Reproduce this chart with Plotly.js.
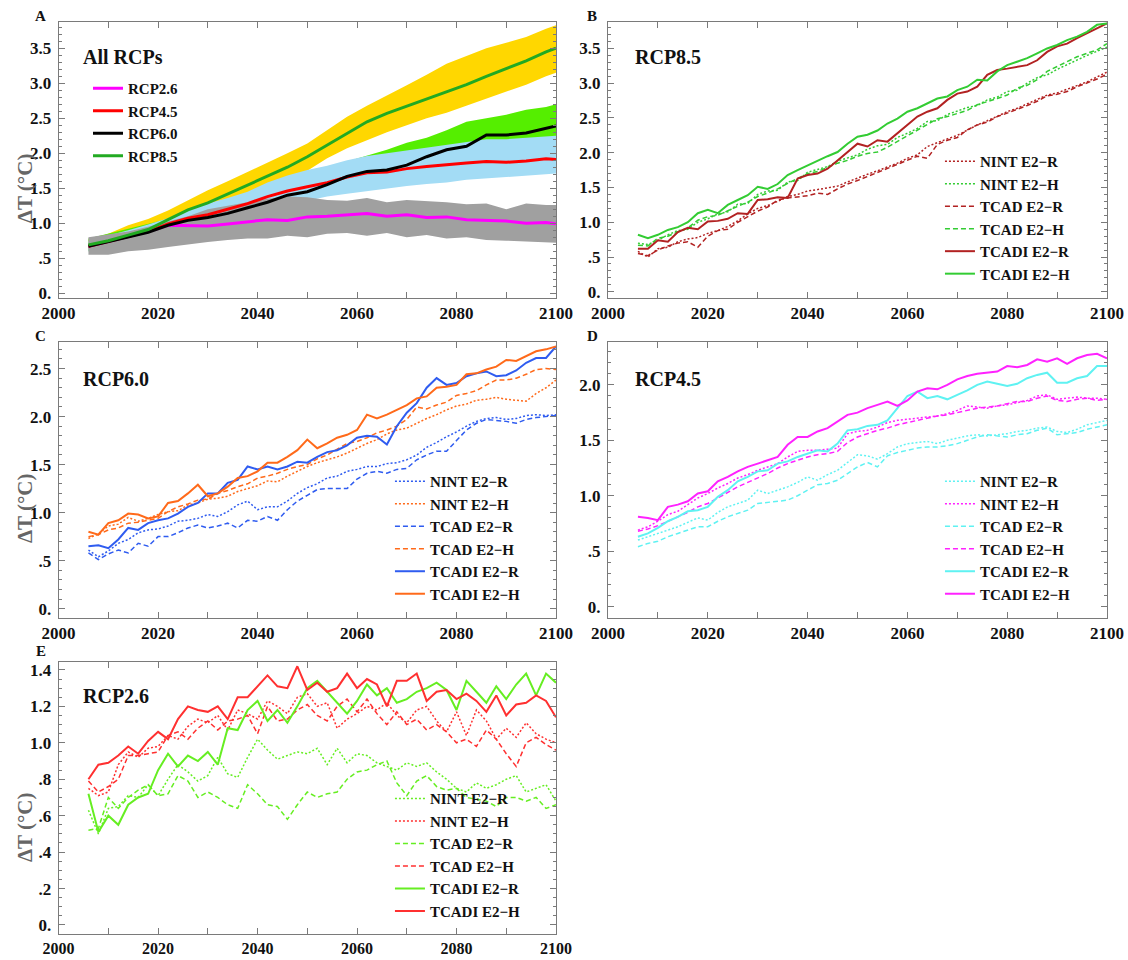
<!DOCTYPE html>
<html>
<head>
<meta charset="utf-8">
<script src="https://cdn.plot.ly/plotly-3.0.1.min.js"></script>
<style>html,body{margin:0;padding:0;background:#fff;}#chart{width:1128px;height:960px;}</style>
</head>
<body>
<div id="chart"></div>
<script>
// ---------- DATA ----------
const yearsA = [2006,2010,2014,2018,2022,2026,2030,2034,2038,2042,2046,2050,2054,2058,2062,2066,2070,2074,2078,2082,2086,2090,2094,2098,2100];
const years = [2006,2008,2010,2012,2014,2016,2018,2020,2022,2024,2026,2028,2030,2032,2034,2036,2038,2040,2042,2044,2046,2048,2050,2052,2054,2056,2058,2060,2062,2064,2066,2068,2070,2072,2074,2076,2078,2080,2082,2084,2086,2088,2090,2092,2094,2096,2098,2100];

// Panel A: All RCPs (means and ranges)
const rcpNames = ["RCP2.6","RCP4.5","RCP6.0","RCP8.5"];
const rcp26 = [0.67,0.74,0.80,0.88,0.97,0.97,0.96,0.99,1.02,1.05,1.04,1.09,1.10,1.12,1.14,1.10,1.12,1.08,1.09,1.05,1.04,1.03,1.00,1.01,0.99];
const rcp45 = [0.67,0.74,0.81,0.88,0.99,1.07,1.12,1.20,1.28,1.38,1.46,1.52,1.58,1.66,1.72,1.73,1.78,1.81,1.84,1.86,1.88,1.87,1.89,1.92,1.91];
const rcp60 = [0.67,0.74,0.80,0.87,0.97,1.04,1.08,1.14,1.22,1.30,1.40,1.45,1.55,1.67,1.74,1.76,1.83,1.95,2.05,2.10,2.26,2.26,2.29,2.36,2.39];
const rcp85 = [0.69,0.75,0.83,0.91,1.05,1.19,1.29,1.42,1.55,1.68,1.80,1.95,2.12,2.29,2.45,2.57,2.67,2.77,2.88,2.98,3.10,3.21,3.32,3.45,3.50];
const rcp26Lo = [0.55,0.55,0.60,0.62,0.66,0.70,0.73,0.76,0.78,0.78,0.82,0.80,0.85,0.86,0.82,0.86,0.80,0.83,0.78,0.80,0.76,0.75,0.74,0.72,0.72];
const rcp26Hi = [0.80,0.84,0.88,0.95,1.02,1.10,1.20,1.25,1.30,1.35,1.38,1.37,1.33,1.32,1.36,1.30,1.33,1.32,1.30,1.27,1.28,1.20,1.28,1.26,1.26];
const rcp45Lo = [0.60,0.66,0.72,0.78,0.85,0.92,0.98,1.04,1.10,1.18,1.26,1.32,1.38,1.42,1.46,1.50,1.53,1.56,1.58,1.62,1.64,1.66,1.68,1.70,1.71];
const rcp45Hi = [0.75,0.82,0.90,0.98,1.07,1.18,1.28,1.36,1.45,1.58,1.68,1.76,1.82,1.90,1.96,2.00,2.04,2.08,2.12,2.15,2.20,2.20,2.22,2.24,2.25];
const rcp60Lo = [0.60,0.66,0.72,0.78,0.85,0.92,0.95,1.02,1.08,1.15,1.25,1.35,1.45,1.52,1.58,1.64,1.72,1.82,1.92,2.02,2.10,2.12,2.15,2.18,2.20];
const rcp60Hi = [0.78,0.85,0.92,0.98,1.06,1.15,1.22,1.30,1.40,1.50,1.60,1.70,1.80,1.88,1.96,2.05,2.15,2.22,2.33,2.45,2.50,2.55,2.62,2.66,2.70];
const rcp85Lo = [0.64,0.70,0.77,0.85,0.95,1.05,1.15,1.27,1.40,1.50,1.58,1.75,1.93,2.07,2.19,2.30,2.40,2.50,2.58,2.68,2.77,2.87,2.98,3.10,3.15];
const rcp85Hi = [0.76,0.85,0.97,1.06,1.18,1.33,1.47,1.60,1.73,1.87,2.00,2.14,2.33,2.52,2.68,2.82,2.97,3.12,3.28,3.39,3.50,3.58,3.66,3.78,3.83];

const seriesNames = ["NINT E2\u2212R","NINT E2\u2212H","TCAD E2\u2212R","TCAD E2\u2212H","TCADI E2\u2212R","TCADI E2\u2212H"];

// Panel B: RCP8.5
const b_nintR = [0.58,0.50,0.62,0.64,0.72,0.76,0.78,0.84,0.88,0.94,1.02,1.12,1.20,1.24,1.30,1.37,1.40,1.45,1.47,1.50,1.52,1.58,1.64,1.69,1.74,1.79,1.85,1.92,1.97,2.09,2.15,2.20,2.25,2.33,2.40,2.46,2.53,2.59,2.64,2.70,2.76,2.83,2.86,2.91,2.97,3.02,3.09,3.16];
const b_nintH = [0.70,0.68,0.74,0.82,0.88,0.90,1.00,1.05,1.12,1.15,1.26,1.27,1.40,1.45,1.46,1.58,1.60,1.72,1.76,1.80,1.88,1.93,1.97,2.05,2.10,2.12,2.22,2.28,2.35,2.45,2.46,2.55,2.60,2.65,2.68,2.76,2.80,2.88,2.90,3.00,3.08,3.12,3.20,3.27,3.33,3.40,3.46,3.52];
const b_tcadR = [0.55,0.52,0.60,0.66,0.70,0.72,0.64,0.80,0.88,0.90,1.00,1.08,1.16,1.22,1.32,1.35,1.36,1.38,1.42,1.40,1.48,1.55,1.60,1.66,1.72,1.78,1.84,1.90,1.95,1.92,2.12,2.18,2.22,2.33,2.40,2.44,2.52,2.57,2.62,2.68,2.74,2.82,2.84,2.88,2.95,3.00,3.06,3.13];
const b_tcadH = [0.67,0.66,0.77,0.80,0.86,0.92,1.03,1.08,1.10,1.17,1.23,1.29,1.37,1.42,1.48,1.56,1.63,1.70,1.73,1.79,1.85,1.89,1.95,1.99,2.01,2.08,2.16,2.25,2.33,2.40,2.49,2.52,2.57,2.61,2.69,2.73,2.78,2.83,2.93,2.97,3.05,3.17,3.24,3.31,3.38,3.43,3.48,3.57];
const b_tcadiR = [0.62,0.62,0.74,0.72,0.86,0.92,0.90,1.01,1.02,1.05,1.13,1.12,1.32,1.33,1.36,1.35,1.63,1.68,1.70,1.77,1.89,2.01,2.13,2.09,2.18,2.16,2.28,2.40,2.52,2.59,2.64,2.76,2.85,2.88,2.95,3.12,3.19,3.21,3.24,3.26,3.33,3.45,3.53,3.57,3.65,3.72,3.79,3.86];
const b_tcadiH = [0.82,0.77,0.82,0.89,0.93,1.00,1.13,1.18,1.13,1.25,1.32,1.39,1.51,1.48,1.55,1.68,1.75,1.82,1.88,1.95,2.01,2.13,2.23,2.26,2.32,2.42,2.49,2.59,2.64,2.71,2.78,2.81,2.90,2.95,3.05,3.04,3.17,3.26,3.31,3.36,3.43,3.50,3.55,3.62,3.67,3.74,3.84,3.86];

// Panel C: RCP6.0
const c_nintR = [0.61,0.54,0.60,0.68,0.72,0.79,0.82,0.83,0.86,0.91,0.92,0.94,0.98,0.96,1.01,1.08,1.12,1.03,1.06,1.06,1.12,1.20,1.26,1.30,1.36,1.38,1.43,1.45,1.48,1.48,1.51,1.52,1.55,1.60,1.68,1.73,1.79,1.84,1.90,1.95,1.98,1.99,1.97,1.98,2.01,2.02,2.01,2.02];
const c_nintH = [0.73,0.78,0.86,0.88,0.95,0.91,0.94,0.98,1.01,1.02,1.08,1.10,1.14,1.15,1.17,1.22,1.25,1.28,1.33,1.32,1.38,1.43,1.48,1.52,1.55,1.58,1.62,1.67,1.72,1.76,1.82,1.86,1.88,1.93,1.98,2.02,2.07,2.11,2.13,2.17,2.18,2.20,2.18,2.17,2.16,2.24,2.30,2.38];
const c_tcadR = [0.58,0.51,0.57,0.61,0.58,0.68,0.65,0.75,0.75,0.79,0.84,0.87,0.84,0.86,0.89,0.84,0.92,0.91,0.96,0.92,1.03,1.12,1.18,1.24,1.25,1.25,1.25,1.35,1.41,1.43,1.41,1.45,1.46,1.55,1.60,1.64,1.64,1.75,1.86,1.93,1.97,1.96,1.95,1.93,1.97,1.99,2.00,2.01];
const c_tcadH = [0.75,0.77,0.82,0.84,0.89,0.90,0.92,0.94,1.01,1.06,1.09,1.13,1.14,1.20,1.23,1.27,1.30,1.36,1.38,1.41,1.45,1.48,1.50,1.56,1.60,1.66,1.72,1.74,1.78,1.83,1.86,1.90,1.97,2.10,2.08,2.12,2.15,2.22,2.24,2.27,2.33,2.38,2.38,2.40,2.44,2.49,2.50,2.49];
const c_tcadiR = [0.65,0.66,0.63,0.72,0.84,0.82,0.89,0.92,0.94,0.99,1.06,1.10,1.20,1.20,1.31,1.34,1.48,1.45,1.48,1.45,1.48,1.53,1.52,1.58,1.63,1.65,1.70,1.78,1.80,1.79,1.71,1.90,2.04,2.14,2.30,2.40,2.33,2.35,2.42,2.45,2.47,2.42,2.43,2.48,2.56,2.61,2.61,2.73];
const c_tcadiH = [0.80,0.77,0.89,0.92,0.99,0.98,0.94,0.96,1.10,1.12,1.20,1.29,1.17,1.20,1.27,1.36,1.38,1.43,1.52,1.52,1.58,1.65,1.76,1.67,1.72,1.78,1.81,1.86,2.02,1.98,2.02,2.07,2.12,2.19,2.21,2.30,2.31,2.33,2.44,2.45,2.49,2.52,2.59,2.58,2.63,2.68,2.70,2.73];

// Panel D: RCP4.5
const d_nintR = [0.60,0.63,0.66,0.69,0.72,0.76,0.80,0.78,0.85,0.90,0.93,0.96,1.05,1.02,1.05,1.08,1.12,1.17,1.14,1.19,1.23,1.30,1.37,1.36,1.33,1.38,1.44,1.47,1.48,1.49,1.47,1.50,1.52,1.54,1.55,1.54,1.55,1.56,1.58,1.59,1.61,1.62,1.58,1.57,1.60,1.64,1.66,1.68];
const d_nintH = [0.69,0.72,0.77,0.83,0.86,0.92,0.98,1.02,1.07,1.11,1.16,1.19,1.23,1.26,1.29,1.35,1.40,1.41,1.41,1.42,1.43,1.56,1.58,1.59,1.62,1.66,1.68,1.69,1.70,1.71,1.72,1.74,1.77,1.81,1.80,1.79,1.81,1.82,1.84,1.86,1.90,1.91,1.87,1.88,1.89,1.88,1.88,1.87];
const d_tcadR = [0.54,0.57,0.59,0.63,0.66,0.69,0.72,0.72,0.77,0.81,0.84,0.87,0.93,0.94,0.95,0.96,1.00,1.05,1.10,1.11,1.14,1.20,1.26,1.30,1.26,1.36,1.39,1.41,1.43,1.44,1.44,1.45,1.47,1.50,1.53,1.55,1.54,1.53,1.55,1.56,1.59,1.61,1.55,1.56,1.57,1.60,1.62,1.64];
const d_tcadH = [0.68,0.70,0.73,0.77,0.81,0.85,0.90,0.93,0.98,1.03,1.08,1.12,1.16,1.20,1.25,1.29,1.32,1.35,1.37,1.38,1.40,1.48,1.53,1.56,1.59,1.61,1.64,1.66,1.68,1.70,1.72,1.73,1.75,1.77,1.79,1.80,1.81,1.83,1.85,1.85,1.88,1.90,1.86,1.85,1.87,1.88,1.86,1.87];
const d_tcadiR = [0.63,0.66,0.71,0.77,0.81,0.86,0.87,0.90,0.99,1.05,1.13,1.17,1.22,1.23,1.29,1.31,1.35,1.38,1.41,1.40,1.47,1.59,1.60,1.63,1.64,1.68,1.79,1.90,1.94,1.88,1.90,1.87,1.91,1.95,2.00,2.03,2.01,1.99,2.01,2.06,2.09,2.11,2.02,2.02,2.06,2.08,2.17,2.17];
const d_tcadiH = [0.81,0.80,0.78,0.90,0.92,0.95,1.02,1.04,1.13,1.17,1.22,1.26,1.29,1.32,1.35,1.46,1.53,1.53,1.58,1.61,1.67,1.73,1.75,1.79,1.82,1.85,1.81,1.86,1.94,1.97,1.96,2.00,2.05,2.08,2.10,2.11,2.12,2.17,2.16,2.18,2.23,2.21,2.24,2.19,2.24,2.27,2.28,2.24];

// Panel E: RCP2.6
const e_nintR = [0.63,0.50,0.64,0.65,0.71,0.70,0.77,0.71,0.80,0.88,0.84,0.79,0.82,0.92,0.83,0.81,0.92,1.02,0.96,0.91,0.93,0.95,0.94,0.97,0.88,0.97,0.89,0.94,0.93,0.89,0.87,0.85,0.89,0.87,0.89,0.84,0.80,0.75,0.73,0.78,0.75,0.77,0.80,0.82,0.73,0.75,0.77,0.68];
const e_nintH = [0.75,0.71,0.73,0.88,0.95,0.92,0.97,0.98,1.04,1.02,1.09,1.13,1.11,1.15,1.07,1.18,1.16,1.13,1.23,1.20,1.16,1.25,1.27,1.20,1.22,1.08,1.13,1.16,1.20,1.18,1.22,1.15,1.11,1.18,1.20,1.12,1.06,1.17,1.04,1.18,1.12,1.02,1.08,1.03,1.11,1.05,1.02,1.00];
const e_tcadR = [0.52,0.53,0.70,0.64,0.70,0.74,0.77,0.71,0.72,0.82,0.79,0.70,0.73,0.70,0.66,0.64,0.77,0.72,0.66,0.65,0.58,0.66,0.73,0.70,0.72,0.73,0.80,0.84,0.85,0.88,0.90,0.78,0.71,0.79,0.82,0.76,0.74,0.75,0.70,0.69,0.68,0.65,0.70,0.70,0.68,0.70,0.64,0.66];
const e_tcadH = [0.79,0.73,0.76,0.80,0.93,0.93,0.94,0.95,1.04,1.06,1.02,1.08,1.12,1.07,1.12,1.13,1.15,1.05,1.20,1.12,1.13,1.18,1.21,1.15,1.12,1.20,1.24,1.17,1.24,1.16,1.10,1.17,1.10,1.13,1.07,1.10,1.06,1.00,1.02,0.98,1.07,1.02,0.94,0.87,1.00,1.03,0.99,0.96];
const e_tcadiR = [0.72,0.51,0.60,0.55,0.66,0.70,0.72,0.85,0.94,0.87,0.93,0.90,0.95,0.88,1.08,1.07,1.18,1.23,1.12,1.18,1.11,1.20,1.30,1.34,1.28,1.22,1.16,1.23,1.32,1.26,1.30,1.22,1.24,1.28,1.30,1.33,1.29,1.18,1.34,1.28,1.22,1.31,1.24,1.32,1.38,1.26,1.38,1.33];
const e_tcadiH = [0.80,0.88,0.89,0.93,0.98,0.94,1.01,1.06,1.02,1.13,1.20,1.18,1.17,1.20,1.13,1.25,1.25,1.31,1.37,1.31,1.30,1.42,1.29,1.33,1.28,1.30,1.38,1.30,1.35,1.32,1.20,1.34,1.34,1.38,1.23,1.28,1.29,1.24,1.27,1.23,1.17,1.26,1.15,1.21,1.22,1.26,1.23,1.14];

// ---------- STYLE / BUILD ----------
const FONT = "Liberation Serif, 'Times New Roman', serif";
const AXC = '#7a7a7a';
const DOT = '2px,2px', DASH = '5px,3px';

const traces = [];
function band(lo, hi, color, ax) {
  traces.push({type:'scatter', mode:'lines', x:yearsA, y:lo, xaxis:'x'+ax, yaxis:'y'+ax, line:{width:0, color:color}, showlegend:false, hoverinfo:'skip'});
  traces.push({type:'scatter', mode:'lines', x:yearsA, y:hi, xaxis:'x'+ax, yaxis:'y'+ax, line:{width:0, color:color}, fill:'tonexty', fillcolor:color, showlegend:false, hoverinfo:'skip'});
}
function ln(x, y, name, color, dash, width, ax, legend) {
  traces.push({type:'scatter', mode:'lines', x:x, y:y, name:name, xaxis:'x'+ax, yaxis:'y'+ax,
    legend:legend, line:{color:color, dash:dash, width:width}, hoverinfo:'skip'});
}

// Panel A
band(rcp85Lo, rcp85Hi, '#ffd700', '');
band(rcp60Lo, rcp60Hi, '#55ee00', '');
band(rcp45Lo, rcp45Hi, '#a3dcf5', '');
band(rcp26Lo, rcp26Hi, '#a0a0a0', '');
ln(yearsA, rcp26, rcpNames[0], '#ff00ff', 'solid', 3, '', 'legend');
ln(yearsA, rcp45, rcpNames[1], '#ff0000', 'solid', 3, '', 'legend');
ln(yearsA, rcp60, rcpNames[2], '#000000', 'solid', 3, '', 'legend');
ln(yearsA, rcp85, rcpNames[3], '#22aa22', 'solid', 3, '', 'legend');

function panel(ax, legend, cR, cH, nR, nH, tR, tH, tiR, tiH) {
  ln(years, nR, seriesNames[0], cR, DOT, 1.5, ax, legend);
  ln(years, nH, seriesNames[1], cH, DOT, 1.5, ax, legend);
  ln(years, tR, seriesNames[2], cR, DASH, 1.5, ax, legend);
  ln(years, tH, seriesNames[3], cH, DASH, 1.5, ax, legend);
  ln(years, tiR, seriesNames[4], cR, 'solid', 2, ax, legend);
  ln(years, tiH, seriesNames[5], cH, 'solid', 2, ax, legend);
}
panel('2', 'legend2', '#b22222', '#33cc33', b_nintR, b_nintH, b_tcadR, b_tcadH, b_tcadiR, b_tcadiH);
panel('3', 'legend3', '#2f5cf0', '#ff6a1a', c_nintR, c_nintH, c_tcadR, c_tcadH, c_tcadiR, c_tcadiH);
panel('4', 'legend4', '#5ff2f2', '#ff22ff', d_nintR, d_nintH, d_tcadR, d_tcadH, d_tcadiR, d_tcadiH);
panel('5', 'legend5', '#66ee22', '#ff3030', e_nintR, e_nintH, e_tcadR, e_tcadH, e_tcadiR, e_tcadiH);

const tickfont = {family:FONT, size:17, color:'#111', weight:'bold'};
function xax(domain, anchor, fsize) {
  return {domain:domain, anchor:anchor, range:[2000,2100], tickmode:'linear', tick0:2000, dtick:20,
    ticks:'inside', ticklen:6, tickwidth:1, tickcolor:AXC, showline:true, linecolor:AXC, linewidth:1,
    mirror:'ticks', showgrid:false, zeroline:false, tickfont:Object.assign({}, tickfont, {size:fsize || 17}), ticklabelstandoff:0,
    minor:{tickmode:'linear', tick0:2000, dtick:10, ticks:'inside', ticklen:6, tickcolor:AXC, showgrid:false}};
}
const alias = {'0.0':'0.','0.2':'.2','0.4':'.4','0.5':'.5','0.6':'.6','0.8':'.8'};
function yax(domain, anchor, range, dtick, mdtick) {
  return {domain:domain, anchor:anchor, range:range, tickmode:'linear', tick0:0, dtick:dtick, tickformat:'.1f',
    labelalias:alias, ticks:'inside', ticklen:6, tickwidth:1, tickcolor:AXC, showline:true, linecolor:AXC, linewidth:1,
    mirror:'ticks', showgrid:false, zeroline:false, tickfont:tickfont, ticklabelstandoff:3,
    minor:{tickmode:'linear', tick0:0, dtick:mdtick, ticks:'inside', ticklen:3, tickcolor:AXC, showgrid:false}};
}
const LX = [0.05195, 0.4929], RX = [0.5390, 0.9814];
const R1 = [0.6899, 0.9774], R2 = [0.3566, 0.6441], R3 = [0.0268, 0.3107];

const legFont = {family:FONT, size:15, color:'#111', weight:'bold'};
function leg(x, y, yanchor) {
  return {x:x, y:y, xanchor:'left', yanchor:yanchor, bgcolor:'rgba(0,0,0,0)', borderwidth:0, font:legFont,
    tracegroupgap:0, traceorder:'normal'};
}

function ann(text, x, y, size, opts) {
  return Object.assign({text:text, x:x, y:y, xref:'paper', yref:'paper', showarrow:false,
    xanchor:'left', yanchor:'middle', font:{family:FONT, size:size, color:'#111', weight:'bold'}}, opts || {});
}
const ytFont = {family:FONT, size:21, color:'#666', weight:'bold'};
const annotations = [
  ann('A', 0.0355, 0.983, 15, {xanchor:'center'}),
  ann('B', 0.5250, 0.983, 15, {xanchor:'center'}),
  ann('C', 0.0355, 0.650, 15, {xanchor:'center'}),
  ann('D', 0.5257, 0.650, 15, {xanchor:'center'}),
  ann('E', 0.0363, 0.3215, 15, {xanchor:'center'}),
  ann('All RCPs', 0.0720, 0.9406, 20),
  ann('RCP8.5', 0.5610, 0.9406, 20),
  ann('RCP6.0', 0.0720, 0.6052, 20),
  ann('RCP4.5', 0.5610, 0.6052, 20),
  ann('RCP2.6', 0.0720, 0.2750, 20),
  ann('\u0394T (\u00b0C)', 0.0222, 0.804, 21, {xanchor:'center', textangle:-90, font:ytFont}),
  ann('\u0394T (\u00b0C)', 0.0222, 0.4708, 21, {xanchor:'center', textangle:-90, font:ytFont}),
  ann('\u0394T (\u00b0C)', 0.0222, 0.1385, 21, {xanchor:'center', textangle:-90, font:ytFont})
];

const layout = {
  width:1128, height:960, margin:{l:0, r:0, t:0, b:0},
  paper_bgcolor:'#fff', plot_bgcolor:'#fff', showlegend:true, hovermode:false,
  font:{family:FONT, color:'#111'},
  xaxis: xax(LX, 'y'),  yaxis: yax(R1, 'x', [-0.065, 3.88], 0.5, 0.1),
  xaxis2: xax(RX, 'y2'), yaxis2: yax(R1, 'x2', [-0.085, 3.885], 0.5, 0.1),
  xaxis3: xax(LX, 'y3'), yaxis3: yax(R2, 'x3', [-0.094, 2.78], 0.5, 0.1),
  xaxis4: xax(RX, 'y4'), yaxis4: yax(R2, 'x4', [-0.10, 2.39], 0.5, 0.1),
  xaxis5: xax(LX, 'y5', 16), yaxis5: yax(R3, 'x5', [-0.051, 1.445], 0.2, 0.05),
  legend: leg(0.0780, 0.925, 'top'),
  legend2: leg(0.8333, 0.698, 'bottom'),
  legend3: leg(0.3457, 0.3646, 'bottom'),
  legend4: leg(0.8333, 0.3646, 'bottom'),
  legend5: leg(0.3457, 0.0340, 'bottom'),
  annotations: annotations
};

Plotly.newPlot('chart', traces, layout, {staticPlot:true, displayModeBar:false});
</script>
</body>
</html>
